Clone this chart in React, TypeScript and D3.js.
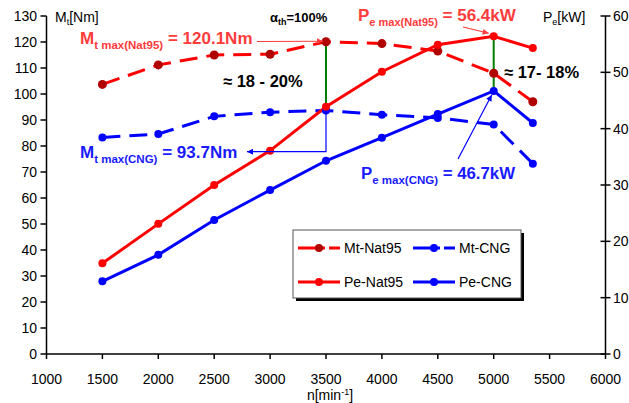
import React from "react";
import * as d3 from "d3";

const rpm = [1500, 2000, 2500, 3000, 3500, 4000, 4500, 5000, 5350];
const mtNat95 = [103.7, 111.2, 115.0, 115.3, 120.1, 119.4, 116.5, 108.0, 97.0];
const mtCNG = [83.3, 84.6, 91.4, 93.0, 93.7, 92.0, 90.8, 88.3, 73.2];
const peNat95 = [16.1, 23.1, 30.0, 36.1, 43.9, 50.1, 54.9, 56.4, 54.3];
const peCNG = [12.9, 17.6, 23.8, 29.1, 34.3, 38.4, 42.6, 46.7, 41.0];
const xTicks = [1000, 1500, 2000, 2500, 3000, 3500, 4000, 4500, 5000, 5500, 6000];
const leftTicks = [0, 10, 20, 30, 40, 50, 60, 70, 80, 90, 100, 110, 120, 130];
const rightTicks = [0, 10, 20, 30, 40, 50, 60];

const W = 629, H = 403;
const x = d3.scaleLinear().domain([1000, 6000]).range([46.5, 605.5]);
const yL = d3.scaleLinear().domain([0, 130]).range([354, 16]);
const yR = d3.scaleLinear().domain([0, 60]).range([354, 16]);

const RED = "#ff0000";
const BLUE = "#0000ff";
const ANN_RED = "#ff3c3c";
const ANN_BLUE = "#1a1aff";
const FONT = "Arial, 'Liberation Sans', Helvetica, sans-serif";

function linePath(vals: number[], y: d3.ScaleLinear<number, number>) {
  return d3.line<number>().x((_, i) => x(rpm[i])).y((v) => y(v))(vals) || "";
}

function SubLabel({ x0, y0, main, sub, rest, color, size, subSize }: any) {
  return (
    <text x={x0} y={y0} fill={color} fontFamily={FONT} fontWeight="bold" fontSize={size}>
      <tspan>{main}</tspan>
      <tspan fontSize={subSize} dy={5}>{sub}</tspan>
      <tspan dy={-5}>{rest}</tspan>
    </text>
  );
}

export default function App() {
  const series = [
    { vals: mtCNG, y: yL, color: BLUE, dash: "18,9", mk: BLUE, r: 4 },
    { vals: peCNG, y: yR, color: BLUE, dash: null, mk: BLUE, r: 4 },
    { vals: mtNat95, y: yL, color: RED, dash: "18,9", mk: "#b00000", r: 4.5 },
    { vals: peNat95, y: yR, color: RED, dash: null, mk: RED, r: 4 },
  ];
  const legend = [
    { label: "Mt-Nat95", color: RED, mk: "#b00000", dash: "27,4,11", lx: 298, ly: 248 },
    { label: "Mt-CNG", color: BLUE, mk: BLUE, dash: "27,4,11", lx: 413, ly: 248 },
    { label: "Pe-Nat95", color: RED, mk: RED, dash: null, lx: 298, ly: 282 },
    { label: "Pe-CNG", color: BLUE, mk: BLUE, dash: null, lx: 413, ly: 282 },
  ];
  const i35 = rpm.indexOf(3500);
  const i50 = rpm.indexOf(5000);
  return (
    <svg width={W} height={H} style={{ position: "absolute", left: 0, top: 0 }} fontFamily={FONT}>
      <defs>
        <marker id="arR" viewBox="0 0 10 10" refX="10" refY="5" markerWidth="7" markerHeight="6" orient="auto" markerUnits="userSpaceOnUse">
          <path d="M0,0 L10,5 L0,10 z" fill={ANN_RED} />
        </marker>
        <marker id="arB" viewBox="0 0 10 10" refX="10" refY="5" markerWidth="7" markerHeight="6" orient="auto" markerUnits="userSpaceOnUse">
          <path d="M0,0 L10,5 L0,10 z" fill={BLUE} />
        </marker>
      </defs>
      <rect width={W} height={H} fill="white" />
      {/* axes */}
      <line x1={x(1000)} x2={x(6000)} y1={354} y2={354} stroke="black" strokeWidth={1.5} />
      <line x1={x(1000)} x2={x(1000)} y1={16} y2={354} stroke="black" strokeWidth={1.5} />
      <line x1={x(6000)} x2={x(6000)} y1={16} y2={354} stroke="black" strokeWidth={1.5} />
      {xTicks.map((t) => (
        <g key={"x" + t}>
          <line x1={x(t)} x2={x(t)} y1={354} y2={359} stroke="black" strokeWidth={1.5} />
          <text x={x(t)} y={384} textAnchor="middle" fontSize={14} fill="#000">{t}</text>
        </g>
      ))}
      {leftTicks.map((t) => (
        <g key={"l" + t}>
          <line x1={x(1000) - 6} x2={x(1000)} y1={yL(t)} y2={yL(t)} stroke="black" strokeWidth={1.5} />
          <text x={37} y={yL(t) + 5} textAnchor="end" fontSize={14} fill="#000">{t}</text>
        </g>
      ))}
      {rightTicks.map((t) => (
        <g key={"r" + t}>
          <line x1={x(6000) - 5} x2={x(6000) + 5} y1={yR(t)} y2={yR(t)} stroke="black" strokeWidth={1.5} />
          <text x={613} y={yR(t) + 5} textAnchor="start" fontSize={14} fill="#000">{t}</text>
        </g>
      ))}
      <text x={55} y={22} fontSize={14} fill="#000">M<tspan fontSize={9} dy={3}>t</tspan><tspan dy={-3}>[Nm]</tspan></text>
      <text x={543} y={22} fontSize={14} fill="#000">P<tspan fontSize={9} dy={3}>e</tspan><tspan dy={-3}>[kW]</tspan></text>
      <text x={330} y={400} textAnchor="middle" fontSize={14} fill="#000">n[min<tspan fontSize={9} dy={-5}>-1</tspan><tspan dy={5}>]</tspan></text>

      {/* series */}
      {series.map((s, k) => (
        <path key={"p" + k} d={linePath(s.vals, s.y)} fill="none" stroke={s.color} strokeWidth={3}
          strokeDasharray={s.dash || undefined} />
      ))}
      {/* green verticals */}
      <line x1={x(3500)} x2={x(3500)} y1={yL(mtNat95[i35])} y2={yL(mtCNG[i35])} stroke="#008000" strokeWidth={2} />
      <line x1={x(5000)} x2={x(5000)} y1={yR(peNat95[i50])} y2={yR(peCNG[i50])} stroke="#008000" strokeWidth={2} />
      {series.map((s, k) => (
        <g key={"m" + k}>
          {s.vals.map((v, i) => (
            <circle key={i} cx={x(rpm[i])} cy={s.y(v)} r={s.r} fill={s.mk} />
          ))}
        </g>
      ))}

      {/* annotations */}
      <text x={270} y={22} fontSize={13} fontWeight="bold" fill="#000">α<tspan fontSize={9} dy={3}>th</tspan><tspan dy={-3}>=100%</tspan></text>
      <SubLabel x0={80} y0={43.5} main="M" sub="t max(Nat95)" rest=" = 120.1Nm" color={ANN_RED} size={17} subSize={11.5} />
      <line x1={257} y1={41.5} x2={x(3500) - 3} y2={yL(mtNat95[i35]) - 0.5} stroke={ANN_RED} strokeWidth={1.2} markerEnd="url(#arR)" />
      <SubLabel x0={358} y0={21} main="P" sub="e max(Nat95)" rest=" = 56.4kW" color={ANN_RED} size={17} subSize={11} />
      <line x1={463} y1={27} x2={x(5000) - 5} y2={yR(peNat95[i50]) - 3} stroke={ANN_RED} strokeWidth={1.2} markerEnd="url(#arR)" />
      <text x={223} y={86.5} fontSize={16.5} fontWeight="bold" fill="#000">≈ 18 - 20%</text>
      <text x={504} y={77.5} fontSize={16.5} fontWeight="bold" fill="#000">≈ 17- 18%</text>
      <SubLabel x0={80} y0={157.5} main="M" sub="t max(CNG)" rest=" = 93.7Nm" color={ANN_BLUE} size={17} subSize={11.5} />
      <path d={`M${x(3500)},${yL(mtCNG[i35])} L${x(3500)},151.7 L247,151.7`} fill="none" stroke={BLUE} strokeWidth={1.2} markerEnd="url(#arB)" />
      <SubLabel x0={361} y0={178.5} main="P" sub="e max(CNG)" rest=" = 46.7kW" color={ANN_BLUE} size={16.8} subSize={11.5} />
      <line x1={458} y1={159} x2={x(5000) - 2} y2={yR(peCNG[i50]) + 4} stroke={BLUE} strokeWidth={1.2} markerEnd="url(#arB)" />

      {/* legend */}
      <rect x={296} y={233} width={228} height={68} fill="black" />
      <rect x={293} y={230} width={228} height={68} fill="white" stroke="#555" strokeWidth={1} />
      {legend.map((l) => (
        <g key={l.label}>
          <line x1={l.lx} x2={l.lx + 42} y1={l.ly} y2={l.ly} stroke={l.color} strokeWidth={3} strokeDasharray={l.dash || undefined} />
          <circle cx={l.lx + 21} cy={l.ly} r={4} fill={l.mk} />
          <text x={l.lx + 46} y={l.ly + 5} fontSize={14} fill="#000">{l.label}</text>
        </g>
      ))}
    </svg>
  );
}
